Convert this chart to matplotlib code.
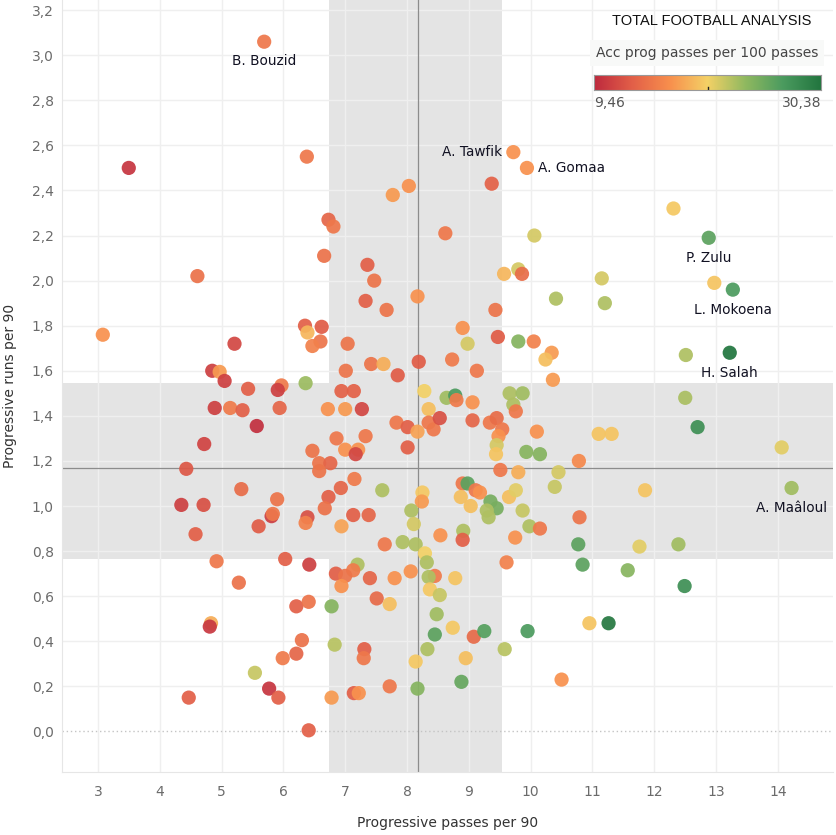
import matplotlib
matplotlib.use('Agg')
import matplotlib.pyplot as plt
import numpy as np
from matplotlib.colors import LinearSegmentedColormap, Normalize

# named players first, same order as in player_names
player_names = ['B. Bouzid', 'A. Tawfik', 'A. Gomaa', 'P. Zulu', 'L. Mokoena', 'H. Salah', 'A. Maâloul']
name_offsets = [(0, -19, 'center'), (-11, 0, 'right'), (11, 0, 'left'), (0, -20, 'center'),
                (0, -20, 'center'), (0, -20, 'center'), (0, -20, 'center')]

prog_passes = [5.69, 9.72, 9.94, 12.88, 13.27, 13.22, 14.22,
    3.50, 6.38, 6.73, 6.81, 6.66, 4.61,
    9.37, 8.03, 7.77, 8.62, 10.06, 7.36, 7.47, 9.57, 9.80, 9.86, 10.41, 7.33, 7.67, 8.17,
    9.43, 8.90, 8.98, 9.47, 9.80, 10.05, 10.34, 10.24, 10.36, 7.04, 7.01, 7.42, 7.62, 7.85,
    8.19, 8.73, 9.13,
    12.31, 12.97, 11.15, 11.20, 12.51, 12.50, 12.70, 11.10, 11.31, 14.06, 10.78, 10.45,
    11.85, 10.39, 10.79, 10.77, 11.76, 12.39, 10.84, 11.57, 12.49, 10.95, 11.26, 10.50,
    6.94, 7.14, 6.72, 7.00, 7.27, 8.28, 8.35, 8.64, 8.78, 8.80, 9.06, 7.83, 8.01, 8.17,
    8.35, 8.43, 8.53, 9.06, 9.34, 9.45, 9.54, 9.48, 9.45, 9.44, 9.66, 9.87, 9.72, 9.76,
    10.10, 9.93, 10.15, 9.51, 9.80, 6.86, 7.33, 7.00, 7.21, 7.17, 8.01, 7.15, 6.93, 6.73,
    6.67, 7.60, 7.13, 7.38, 6.94, 8.25, 8.24, 8.07, 8.11, 8.90, 8.98, 9.11, 9.18, 8.87,
    9.03, 9.35, 9.45, 9.29, 9.32, 9.65, 9.76, 9.87, 9.98, 10.15, 9.75, 8.91, 8.90, 8.54,
    7.64, 7.93, 8.14, 8.29, 8.32, 9.61, 7.20, 7.13, 6.85, 8.06, 7.40, 7.80, 8.45, 8.35,
    8.78,
    7.00, 6.94, 8.37, 8.53, 7.51, 7.72, 6.78, 8.48, 8.74, 8.45, 9.08, 9.25, 9.95, 6.83,
    7.31, 7.30, 8.33, 8.14, 8.95, 9.58, 7.72, 8.17, 8.88, 6.78, 7.14, 7.22,
    4.92, 6.03, 6.42, 5.28, 6.21, 6.41, 4.83, 4.81, 6.30, 6.21, 5.99, 5.54, 5.77, 5.92,
    4.47, 6.41,
    3.08, 5.21, 6.35, 6.62, 6.39, 6.60, 6.47, 4.85, 4.97, 5.05, 5.43, 5.97, 5.91, 6.36,
    4.89, 5.14, 5.34, 5.94, 5.57, 4.72, 6.47, 4.43, 6.58, 6.76, 6.58, 5.32, 5.90, 4.35,
    4.71, 5.81, 5.83, 6.39, 6.36, 5.60, 4.58]

prog_runs = [3.06, 2.57, 2.50, 2.19, 1.96, 1.68, 1.08,
    2.50, 2.55, 2.27, 2.24, 2.11, 2.02,
    2.43, 2.42, 2.38, 2.21, 2.20, 2.07, 2.00, 2.03, 2.05, 2.03, 1.92, 1.91, 1.87, 1.93,
    1.87, 1.79, 1.72, 1.75, 1.73, 1.73, 1.68, 1.65, 1.56, 1.72, 1.60, 1.63, 1.63, 1.58,
    1.64, 1.65, 1.60,
    2.32, 1.99, 2.01, 1.90, 1.67, 1.48, 1.35, 1.32, 1.32, 1.26, 1.20, 1.15,
    1.07, 1.085, 0.95, 0.83, 0.82, 0.83, 0.74, 0.715, 0.645, 0.48, 0.48, 0.23,
    1.51, 1.51, 1.43, 1.43, 1.43, 1.51, 1.43, 1.48, 1.49, 1.47, 1.46, 1.37, 1.35, 1.33,
    1.37, 1.34, 1.39, 1.38, 1.37, 1.39, 1.34, 1.31, 1.27, 1.23, 1.50, 1.50, 1.45, 1.42,
    1.33, 1.24, 1.23, 1.16, 1.15, 1.30, 1.31, 1.25, 1.25, 1.23, 1.26, 1.12, 1.08, 1.04,
    0.99, 1.07, 0.96, 0.96, 0.91, 1.06, 1.02, 0.98, 0.92, 1.10, 1.10, 1.07, 1.06, 1.04,
    1.00, 1.02, 0.99, 0.98, 0.95, 1.04, 1.07, 0.98, 0.91, 0.90, 0.86, 0.89, 0.85, 0.87,
    0.83, 0.84, 0.83, 0.79, 0.75, 0.75, 0.74, 0.715, 0.70, 0.71, 0.68, 0.68, 0.69, 0.685,
    0.68,
    0.69, 0.645, 0.63, 0.605, 0.59, 0.565, 0.555, 0.52, 0.46, 0.43, 0.42, 0.445, 0.445, 0.385,
    0.365, 0.325, 0.365, 0.31, 0.325, 0.365, 0.20, 0.19, 0.22, 0.15, 0.17, 0.17,
    0.755, 0.765, 0.74, 0.66, 0.555, 0.575, 0.48, 0.465, 0.405, 0.345, 0.325, 0.26, 0.19, 0.15,
    0.15, 0.005,
    1.76, 1.72, 1.80, 1.795, 1.77, 1.73, 1.71, 1.60, 1.595, 1.555, 1.52, 1.535, 1.515, 1.545,
    1.435, 1.435, 1.425, 1.435, 1.355, 1.275, 1.245, 1.165, 1.19, 1.19, 1.155, 1.075, 1.03, 1.005,
    1.005, 0.955, 0.965, 0.95, 0.925, 0.91, 0.875]

acc_prog = [14.8, 16.5, 16.5, 26.0, 26.8, 30.38, 22.8,
    10.3, 14.8, 13.5, 14.8, 14.3, 14.3,
    13.2, 16.5, 17.0, 14.8, 21.0, 13.0, 14.5, 18.5, 21.0, 14.0, 22.3, 13.0, 14.5, 16.5,
    14.5, 16.5, 21.0, 12.8, 24.0, 15.5, 17.0, 19.0, 17.0, 14.5, 14.5, 14.5, 18.0, 12.8,
    12.8, 15.0, 14.8,
    19.5, 19.2, 21.0, 22.3, 22.3, 22.5, 28.0, 19.2, 19.2, 20.5, 16.0, 21.0,
    19.2, 21.5, 14.5, 26.0, 20.5, 22.8, 26.0, 23.8, 28.0, 19.2, 30.0, 16.5,
    13.2, 13.2, 16.5, 17.0, 11.5, 20.0, 19.0, 22.8, 26.8, 15.0, 16.5, 14.8, 13.0, 17.5,
    14.8, 14.8, 12.0, 13.5, 14.8, 14.0, 14.8, 16.5, 21.0, 19.2, 22.3, 22.8, 22.3, 14.8,
    16.5, 23.8, 24.0, 14.8, 18.0, 14.8, 14.8, 16.5, 16.5, 11.5, 13.0, 15.0, 13.5, 13.0,
    14.3, 22.3, 13.0, 13.5, 17.5, 19.5, 17.0, 22.3, 21.0, 14.8, 26.0, 14.8, 16.5, 19.0,
    19.0, 24.6, 24.6, 22.3, 22.3, 19.0, 20.5, 21.5, 22.3, 14.8, 16.5, 22.3, 13.0, 16.5,
    14.8, 22.3, 22.3, 20.0, 22.3, 15.5, 22.3, 15.0, 13.0, 16.5, 13.5, 16.5, 15.0, 22.3,
    19.2,
    14.5, 16.5, 19.5, 21.5, 13.8, 19.0, 24.0, 22.8, 19.5, 26.0, 13.8, 26.3, 26.8, 22.0,
    13.0, 14.8, 22.3, 19.5, 19.0, 22.0, 14.8, 24.0, 25.5, 17.0, 13.0, 16.5,
    14.8, 13.0, 11.0, 14.3, 13.0, 14.5, 18.0, 10.5, 14.3, 13.5, 15.0, 21.5, 10.3, 13.0,
    13.0, 13.0,
    16.5, 11.5, 13.0, 12.8, 18.5, 14.5, 15.5, 11.0, 17.0, 11.0, 13.0, 15.0, 11.0, 23.0,
    11.0, 15.0, 13.0, 13.5, 9.9, 11.2, 14.5, 12.5, 14.5, 13.5, 14.5, 14.0, 14.5, 11.0,
    12.0, 10.8, 14.8, 12.0, 15.5, 12.8, 13.0]

acc_min, acc_max = 9.46, 30.38
mean_passes, mean_runs = 8.18, 1.167
band_passes = (6.74, 9.535)
band_runs = (0.763, 1.545)

cmap = LinearSegmentedColormap.from_list('rgg', ['#be2a3e', '#e25f48', '#f88f4d', '#f4d166',
                                                 '#90b960', '#4b9b5f', '#22763f'])
norm = Normalize(acc_min, acc_max)

fig = plt.figure(figsize=(8.37, 8.35), dpi=100)
ax = fig.add_axes([62/837, 63/835, 771/837, 772/835])

ax.set_xlim(2.42, 14.89)
ax.set_ylim(-0.18, 3.245)

ax.axvspan(*band_passes, color='#e4e4e4', lw=0, zorder=0)
ax.axhspan(*band_runs, color='#e4e4e4', lw=0, zorder=0)

xt = np.arange(3, 15)
yt = np.round(np.arange(0, 3.21, 0.2), 1)
for v in xt:
    ax.axvline(v, color='#efefef', lw=1, zorder=1)
for v in yt[1:]:
    ax.axhline(v, color='#efefef', lw=1, zorder=1)
ax.axhline(0, color='#c4c4c4', lw=1, ls=(0, (1, 2)), zorder=1)

ax.axvline(mean_passes, color='#8c8c8c', lw=0.9, zorder=2)
ax.axhline(mean_runs, color='#8c8c8c', lw=0.9, zorder=2)

ax.scatter(prog_passes, prog_runs, c=acc_prog, cmap=cmap, norm=norm, s=105,
           linewidths=0, alpha=0.93, zorder=3)

for i, name in enumerate(player_names):
    dx, dy, ha = name_offsets[i]
    ax.annotate(name, (prog_passes[i], prog_runs[i]), xytext=(dx, dy),
                textcoords='offset pixels', ha=ha, va='center', fontsize=9.8,
                color='#111122', zorder=4)

ax.set_xticks(xt)
ax.set_xticklabels([str(v) for v in xt])
ax.set_yticks(yt)
ax.set_yticklabels([('%.1f' % v).replace('.', ',') for v in yt])
ax.tick_params(length=0, labelsize=10, labelcolor='#6b6b6b')
ax.tick_params(axis='x', pad=9)
ax.tick_params(axis='y', pad=6)
for s in ['top', 'right']:
    ax.spines[s].set_visible(False)
for s in ['left', 'bottom']:
    ax.spines[s].set_color('#e6e6e6')

ax.set_xlabel('Progressive passes per 90', fontsize=10, color='#333333')
ax.set_ylabel('Progressive runs per 90', fontsize=10, color='#333333')
ax.xaxis.set_label_coords(0.5, -0.057)
ax.yaxis.set_label_coords(-0.058, 0.5)

# legend block top right
fig.text(712/837, 1 - 21/835, 'TOTAL FOOTBALL ANALYSIS', ha='center', va='center',
         fontsize=10.5, color='#111111', family='Liberation Sans')
fig.text(707/837, 1 - 53/835, 'Acc prog passes per 100 passes', ha='center', va='center',
         fontsize=10, color='#444444',
         bbox=dict(facecolor='#f8f9f8', edgecolor='none', pad=4))
cax = fig.add_axes([594/837, 1 - 90/835, 227/837, 15/835])
cax.imshow(np.linspace(0, 1, 256)[None, :], aspect='auto', cmap=cmap, extent=(0, 1, 0, 1))
cax.set_xticks([])
cax.set_yticks([])
for s in cax.spines.values():
    s.set_color('#999999')
cax.plot([0.5, 0.5], [0, 0.2], color='#222222', lw=1)
fig.text(594/837, 1 - 103/835, '9,46', ha='left', va='center', fontsize=10, color='#555555')
fig.text(821/837, 1 - 103/835, '30,38', ha='right', va='center', fontsize=10, color='#555555')

fig.savefig('out.png', dpi=100)
